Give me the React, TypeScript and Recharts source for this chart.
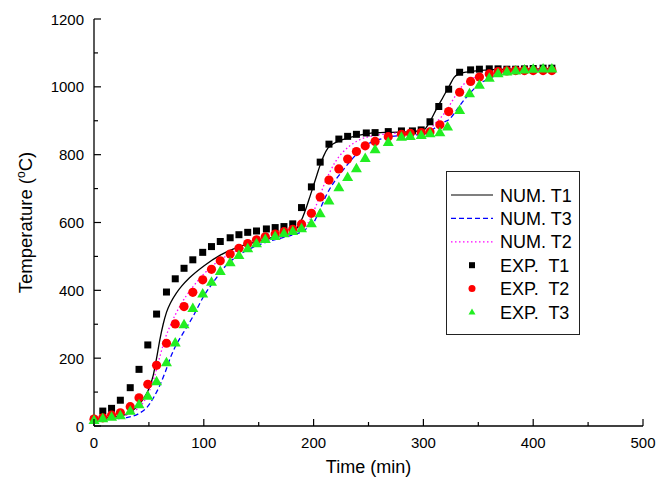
import React from 'react';
import { ComposedChart, Line, Scatter, XAxis, YAxis, Legend } from 'recharts';

// simulated curves (min, °C)
const numT1Time = [0, 10, 20, 30, 35, 40, 45, 50, 54, 57, 60, 63, 66, 70, 75, 80, 87, 100, 115, 130, 145, 160, 175, 182, 186, 190, 194, 197, 200, 203, 206, 209, 213, 218, 225, 236, 251, 270, 290, 300, 306, 312, 318, 324, 328, 333, 340, 350, 380, 418];
const numT1Temp = [20, 23, 28, 35, 45, 60, 80, 110, 150, 200, 255, 300, 335, 365, 392, 413, 437, 472, 504, 526, 541, 554, 563, 572, 590, 615, 650, 680, 710, 740, 770, 795, 819, 832, 843, 853, 863, 866, 868, 872, 898, 935, 970, 1005, 1028, 1038, 1044, 1048, 1052, 1053];

const numT2Time = [0, 10, 20, 30, 40, 45, 50, 55, 60, 65, 70, 78, 90, 100, 115, 130, 145, 160, 175, 185, 192, 197, 201, 205, 210, 215, 220, 226, 233, 242, 255, 270, 290, 300, 306, 311, 316, 321, 326, 331, 336, 342, 349, 364, 380, 418];
const numT2Temp = [20, 21, 25, 33, 52, 70, 100, 145, 205, 260, 300, 352, 410, 448, 490, 517, 535, 549, 560, 570, 585, 610, 640, 672, 715, 750, 780, 805, 826, 844, 856, 862, 866, 869, 876, 893, 910, 930, 957, 983, 1005, 1020, 1031, 1040, 1045, 1048];

const numT3Time = [0, 10, 20, 30, 40, 50, 55, 60, 65, 70, 75, 81, 90, 100, 110, 118, 130, 145, 160, 175, 185, 192, 196, 200, 204, 208, 212, 216, 221, 227, 235, 243, 251, 260, 270, 285, 300, 306, 312, 318, 324, 327, 331, 336, 342, 348, 353, 358, 365, 373, 385, 418];
const numT3Temp = [18, 19, 21, 25, 35, 62, 88, 120, 160, 205, 240, 273, 322, 383, 430, 465, 500, 527, 545, 558, 567, 578, 590, 600, 625, 655, 683, 706, 730, 755, 787, 813, 834, 845, 853, 857, 860, 868, 883, 895, 905, 917, 935, 957, 980, 1000, 1013, 1022, 1032, 1040, 1045, 1048];

// measured points
const expT1Time = [0, 8, 16, 24, 33, 41, 49, 57, 66, 74, 82, 90, 99, 107, 115, 124, 132, 140, 148, 157, 165, 173, 181, 189, 198, 206, 214, 223, 231, 239, 248, 256, 268, 280, 290, 298, 306, 314, 323, 333, 343, 351, 360, 368, 376, 384, 392, 400, 409, 417];
const expT1Temp = [20, 44, 52, 76, 113, 167, 239, 330, 395, 434, 465, 490, 512, 529, 544, 555, 564, 571, 575, 581, 585, 588, 596, 644, 705, 778, 831, 846, 854, 860, 864, 865, 868, 870, 870, 873, 897, 942, 993, 1043, 1050, 1052, 1053, 1053, 1052, 1052, 1053, 1054, 1055, 1055];

const expT2Time = [0, 8, 16, 24, 33, 41, 49, 57, 66, 74, 82, 90, 99, 107, 115, 124, 132, 140, 148, 156, 165, 173, 181, 189, 198, 206, 214, 223, 231, 239, 247, 256, 268, 280, 288, 298, 306, 315, 323, 333, 343, 351, 360, 368, 376, 384, 392, 400, 409, 417];
const expT2Temp = [20, 24, 32, 39, 57, 83, 123, 179, 244, 301, 352, 394, 431, 462, 487, 507, 524, 538, 549, 558, 566, 573, 580, 595, 627, 675, 725, 758, 787, 809, 826, 839, 853, 860, 863, 865, 867, 888, 927, 984, 1016, 1029, 1038, 1045, 1047, 1048, 1048, 1048, 1048, 1048];

const expT3Time = [0, 8, 16, 24, 33, 41, 49, 57, 66, 74, 82, 90, 99, 107, 115, 124, 132, 140, 148, 156, 165, 173, 181, 189, 198, 206, 214, 223, 231, 239, 247, 256, 268, 280, 288, 298, 306, 315, 322, 333, 342, 351, 360, 368, 376, 384, 392, 400, 409, 417];
const expT3Temp = [18, 23, 27, 32, 45, 64, 89, 132, 188, 246, 300, 348, 391, 425, 457, 483, 504, 524, 539, 551, 560, 568, 575, 583, 598, 627, 665, 704, 734, 760, 790, 816, 837, 853, 855, 858, 863, 866, 883, 932, 981, 1006, 1027, 1040, 1045, 1048, 1051, 1053, 1054, 1054];

const xTicks = [0, 50, 100, 150, 200, 250, 300, 350, 400, 450, 500];
const yTicks = [0, 100, 200, 300, 400, 500, 600, 700, 800, 900, 1000, 1100, 1200];

const toPoints = (t: number[], v: number[]) => t.map((time, i) => ({ time, temp: v[i] }));

const FONT = '"Liberation Sans", Arial, sans-serif';
const TICK_GAP = 10;

const Square = (p: any) => <rect x={p.cx - 3.5} y={p.cy - 3.5} width={7} height={7} fill="#000" />;
const Dot = (p: any) => <circle cx={p.cx} cy={p.cy} r={4.6} fill="#ff0000" />;
const Tri = (p: any) => (
  <polygon points={`${p.cx},${p.cy - 5.5} ${p.cx - 5.5},${p.cy + 4} ${p.cx + 5.5},${p.cy + 4}`} fill="#22ee22" />
);

const XTick = (props: any) => {
  const { x, y, payload } = props;
  const axisY = y - TICK_GAP;
  const major = payload.value % 100 === 0;
  return (
    <g>
      <line x1={x} x2={x} y1={axisY} y2={axisY - (major ? 7 : 4)} stroke="#000" strokeWidth={1.2} />
      {major && (
        <text x={x} y={axisY + 22} textAnchor="middle" fontSize={15} fontFamily={FONT} fill="#000">
          {payload.value}
        </text>
      )}
    </g>
  );
};

const YTick = (props: any) => {
  const { x, y, payload } = props;
  const axisX = x + TICK_GAP;
  const major = payload.value % 200 === 0;
  return (
    <g>
      <line x1={axisX} x2={axisX + (major ? 7 : 4)} y1={y} y2={y} stroke="#000" strokeWidth={1.2} />
      {major && (
        <text x={axisX - 10} y={y + 5.5} textAnchor="end" fontSize={15} fontFamily={FONT} fill="#000">
          {payload.value}
        </text>
      )}
    </g>
  );
};

const YTitle = (props: any) => {
  const vb = props.viewBox;
  const cx = vb.x + 26;
  const cy = vb.y + vb.height / 2;
  return (
    <text x={cx} y={cy} transform={`rotate(-90 ${cx} ${cy})`} textAnchor="middle" fontSize={18.5} fontFamily={FONT} fill="#000" dy={6}>
      Temperature (<tspan dy={-7} fontSize={12}>o</tspan>
      <tspan dy={7}>C)</tspan>
    </text>
  );
};

const legendItems = [
  { label: 'NUM. T1', kind: 'line', color: '#000', dash: undefined },
  { label: 'NUM. T3', kind: 'line', color: '#0000ff', dash: '5 3' },
  { label: 'NUM. T2', kind: 'line', color: '#ff00ff', dash: '1.5 2.5' },
  { label: 'EXP.  T1', kind: 'square', color: '#000' },
  { label: 'EXP.  T2', kind: 'circle', color: '#ff0000' },
  { label: 'EXP.  T3', kind: 'triangle', color: '#22ee22' },
];

const LegendBox = () => (
  <svg width={134} height={164} style={{ display: 'block' }}>
    <rect x={0.5} y={0.5} width={133} height={163} fill="#fff" stroke="#222" strokeWidth={1} />
    {legendItems.map((it, i) => {
      const cy = 24 + i * 23.4;
      let mark: React.ReactNode = null;
      if (it.kind === 'line') mark = <line x1={5} x2={47} y1={cy} y2={cy} stroke={it.color} strokeWidth={1.2} strokeDasharray={it.dash} />;
      if (it.kind === 'square') mark = <rect x={23} y={cy - 3} width={6} height={6} fill={it.color} />;
      if (it.kind === 'circle') mark = <circle cx={26} cy={cy} r={3.5} fill={it.color} />;
      if (it.kind === 'triangle') mark = <polygon points={`26,${cy - 3.5} 22.5,${cy + 2.5} 29.5,${cy + 2.5}`} fill={it.color} />;
      return (
        <g key={it.label}>
          {mark}
          <text x={54} y={cy + 6.5} fontSize={18} fontFamily={FONT} fill="#000" style={{ whiteSpace: 'pre' }}>
            {it.label}
          </text>
        </g>
      );
    })}
  </svg>
);

export default function App() {
  return (
    <div style={{ position: 'absolute', left: 0, top: 0, width: 658, height: 481, background: '#fff' }}>
      <ComposedChart width={658} height={481} margin={{ top: 19, right: 15, left: 0, bottom: 0 }}>
        <XAxis
          dataKey="time"
          type="number"
          domain={[0, 500]}
          ticks={xTicks}
          interval={0}
          tickSize={0}
          tickMargin={TICK_GAP}
          tick={<XTick />}
          height={55}
          axisLine={{ stroke: '#000', strokeWidth: 1.3 }}
          label={{ value: 'Time (min)', position: 'insideBottom', offset: 8, fontSize: 18, fontFamily: FONT, fill: '#000' }}
        />
        <XAxis xAxisId="top" orientation="top" type="number" domain={[0, 500]} height={0} tick={false} tickLine={false} axisLine={{ stroke: '#000', strokeWidth: 1.3 }} />
        <YAxis
          dataKey="temp"
          type="number"
          domain={[0, 1200]}
          ticks={yTicks}
          interval={0}
          tickSize={0}
          tickMargin={TICK_GAP}
          tick={<YTick />}
          width={94}
          axisLine={{ stroke: '#000', strokeWidth: 1.3 }}
          label={{ content: <YTitle /> }}
        />
        <YAxis yAxisId="right" orientation="right" type="number" domain={[0, 1200]} width={0} tick={false} tickLine={false} axisLine={{ stroke: '#000', strokeWidth: 1.3 }} />
        <Legend
          layout="vertical"
          align="center"
          verticalAlign="middle"
          content={<LegendBox />}
          wrapperStyle={{ position: 'absolute', left: 446, top: 171, width: 134, height: 164 }}
        />
        <Line data={toPoints(numT1Time, numT1Temp)} dataKey="temp" type="monotone" stroke="#000" strokeWidth={1.3} dot={false} isAnimationActive={false} />
        <Line data={toPoints(numT3Time, numT3Temp)} dataKey="temp" type="monotone" stroke="#0000ff" strokeWidth={1.3} strokeDasharray="5 3" dot={false} isAnimationActive={false} />
        <Line data={toPoints(numT2Time, numT2Temp)} dataKey="temp" type="monotone" stroke="#ff00ff" strokeWidth={1.3} strokeDasharray="1.5 2.5" dot={false} isAnimationActive={false} />
        <Scatter data={toPoints(expT1Time, expT1Temp)} dataKey="temp" shape={Square} isAnimationActive={false} />
        <Scatter data={toPoints(expT2Time, expT2Temp)} dataKey="temp" shape={Dot} isAnimationActive={false} />
        <Scatter data={toPoints(expT3Time, expT3Temp)} dataKey="temp" shape={Tri} isAnimationActive={false} />
      </ComposedChart>
    </div>
  );
}
